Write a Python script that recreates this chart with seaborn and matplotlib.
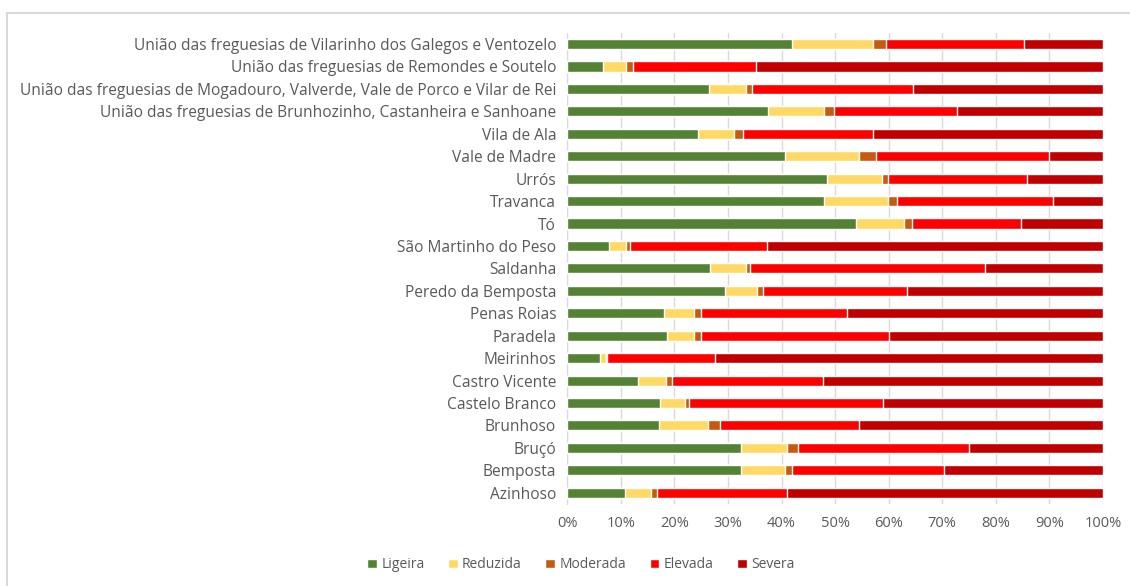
import numpy as np
import pandas as pd
import seaborn as sns
import matplotlib.pyplot as plt
from matplotlib.lines import Line2D
from matplotlib.patches import Patch
from matplotlib.ticker import PercentFormatter

freguesias = [
    'União das freguesias de Vilarinho dos Galegos e Ventozelo',
    'União das freguesias de Remondes e Soutelo',
    'União das freguesias de Mogadouro, Valverde, Vale de Porco e Vilar de Rei',
    'União das freguesias de Brunhozinho, Castanheira e Sanhoane',
    'Vila de Ala', 'Vale de Madre', 'Urrós', 'Travanca', 'Tó',
    'São Martinho do Peso', 'Saldanha', 'Peredo da Bemposta', 'Penas Roias',
    'Paradela', 'Meirinhos', 'Castro Vicente', 'Castelo Branco', 'Brunhoso',
    'Bruçó', 'Bemposta', 'Azinhoso',
]
ligeira = [42.0, 6.7, 26.4, 37.4, 24.5, 40.6, 48.4, 48.0, 54.0, 7.7, 26.7,
           29.4, 18.1, 18.7, 6.1, 13.3, 17.4, 17.1, 32.4, 32.4, 10.7]
reduzida = [15.1, 4.3, 7.0, 10.6, 6.7, 13.8, 10.3, 11.8, 8.9, 3.3, 6.7,
            6.1, 5.6, 5.0, 1.2, 5.2, 4.5, 9.1, 8.7, 8.2, 4.9]
moderada = [2.4, 1.3, 1.1, 1.8, 1.6, 3.2, 1.1, 1.8, 1.4, 0.8, 0.8,
            1.0, 1.2, 1.2, 0.2, 1.0, 0.8, 2.4, 1.9, 1.4, 1.1]
elevada = [25.8, 23.0, 30.0, 23.0, 24.2, 32.3, 26.1, 29.1, 20.4, 25.4, 43.7,
           26.9, 27.4, 35.1, 20.0, 28.3, 36.3, 25.8, 32.0, 28.4, 24.3]
severa = [14.7, 64.7, 35.5, 27.2, 43.0, 10.1, 14.1, 9.3, 15.3, 62.8, 22.1,
          36.6, 47.7, 40.0, 72.5, 52.2, 41.0, 45.6, 25.0, 29.6, 59.0]

niveis = ['Ligeira', 'Reduzida', 'Moderada', 'Elevada', 'Severa']
cores = ['#548235', '#FFD966', '#C55A11', '#FF0000', '#C00000']

df = pd.DataFrame({'Freguesia': freguesias, 'Ligeira': ligeira, 'Reduzida': reduzida,
                   'Moderada': moderada, 'Elevada': elevada, 'Severa': severa})
# normalise to 100% (Excel 100% stacked bar)
tot = df[niveis].sum(axis=1)
for n in niveis:
    df[n] = df[n] / tot * 100
cum = df[niveis].cumsum(axis=1)

sns.set_style('white')
plt.rcParams['font.family'] = ['Open Sans', 'DejaVu Sans']

fig, ax = plt.subplots(figsize=(11.3, 5.86), dpi=100)
fig.subplots_adjust(left=0.502, right=0.976, top=0.944, bottom=0.14)

# draw cumulative bars from the right-most segment back to the left
for n, c in zip(niveis[::-1], cores[::-1]):
    sns.barplot(x=cum[n], y=df['Freguesia'], color=c, orient='h', width=0.45,
                saturation=1, ax=ax, zorder=3)

ax.set_xlim(0, 100)
ax.set_xticks(np.arange(0, 101, 10))
ax.xaxis.set_major_formatter(PercentFormatter(decimals=0))
ax.grid(axis='x', color='#D9D9D9', linewidth=1, zorder=0)
ax.set_axisbelow(True)
for s in ['top', 'right', 'bottom']:
    ax.spines[s].set_visible(False)
ax.spines['left'].set_color('#D9D9D9')
ax.set_xlabel('')
ax.set_ylabel('')
ax.tick_params(axis='y', length=0, labelsize=11.2, colors='#595959', pad=8)
ax.tick_params(axis='x', length=0, labelsize=10.5, colors='#595959', pad=9)

handles = [Patch(facecolor=c, label=n) for n, c in zip(niveis, cores)]
fig.legend(handles=handles, loc='center', bbox_to_anchor=(0.514, 0.036), ncol=5,
           frameon=False, fontsize=10, handlelength=0.7, handleheight=0.7,
           handletextpad=0.3, columnspacing=1.7, labelcolor='#595959')

# chart area border (left and top edges visible)
fig.add_artist(Line2D([7 / 1130, 7 / 1130], [0, 1 - 13 / 586], color='#D9D9D9', lw=1.5))
fig.add_artist(Line2D([7 / 1130, 1], [1 - 13 / 586, 1 - 13 / 586], color='#D9D9D9', lw=1.5))

fig.savefig('out.png', dpi=100)
